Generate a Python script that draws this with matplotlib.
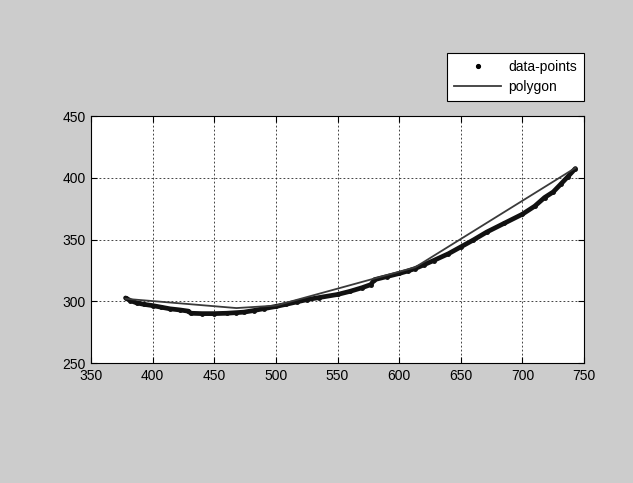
import matplotlib
matplotlib.use("Agg")
import matplotlib.pyplot as plt
from matplotlib.lines import Line2D

data_x = [378, 382, 387, 393, 400, 407, 414, 422, 429, 431, 440, 450, 460, 468,
          474, 482, 490, 500, 508, 517, 525, 535, 550, 560, 570, 577, 580, 590,
          600, 607, 613, 620, 628, 640, 650, 660, 671, 685, 700, 710, 718, 725,
          731, 737, 743]
data_y = [302.7, 300.5, 298.7, 297.5, 296.5, 295.2, 293.9, 293.0, 292.0, 290.3,
          290.0, 290.0, 290.3, 290.8, 291.2, 292.5, 294.0, 295.8, 297.5, 299.5,
          301.3, 303.0, 305.5, 308.0, 311.0, 313.5, 317.5, 320.0, 322.5, 324.5,
          326.5, 329.5, 333.0, 338.5, 344.0, 349.5, 356.0, 363.0, 370.5, 377.0,
          384.0, 388.5, 394.7, 401.0, 407.5]

# polygon vertices
poly_x = [378, 468, 500, 613, 743]
poly_y = [302.0, 294.5, 296.5, 327.5, 408.0]

xticks = [350, 400, 450, 500, 550, 600, 650, 700, 750]
yticks = [250, 300, 350, 400, 450]

plt.rcParams['font.family'] = ['Liberation Sans', 'DejaVu Sans']
plt.rcParams['font.size'] = 10

fig = plt.figure(figsize=(6.33, 4.83), dpi=100, facecolor='#cccccc')
ax = fig.add_axes([0.1438, 0.2484, 0.7788, 0.5114])
ax.set_facecolor('white')

ax.plot(data_x, data_y, '-', color='#111111', lw=3.4, solid_capstyle='round',
        zorder=3)
ax.plot(data_x, data_y, '.', color='#111111', ms=5, zorder=3)
ax.plot(poly_x, poly_y, '-', color='#3a3a3a', lw=1.3, zorder=4)

ax.set_xlim(350, 750)
ax.set_ylim(250, 450)
ax.set_xticks(xticks)
ax.set_yticks(yticks)
ax.grid(True, color='#222222', linestyle=(0, (2.2, 2.6)), linewidth=0.6)
ax.tick_params(direction='in', top=True, right=True, length=4, width=0.8,
               labelsize=10, colors='black', pad=4)
for sp in ax.spines.values():
    sp.set_linewidth(0.8)
    sp.set_color('black')

handles = [Line2D([], [], color='black', marker='.', ls='none', ms=5.5),
           Line2D([], [], color='#3a3a3a', lw=1.3)]
leg = fig.legend(handles, ['data-points', 'polygon'], loc='upper right',
                 bbox_to_anchor=(0.9226, 0.890), bbox_transform=fig.transFigure,
                 fancybox=False, edgecolor='black', framealpha=1,
                 handlelength=3.4, handletextpad=0.5, borderpad=0.5,
                 labelspacing=0.45, borderaxespad=0, fontsize=10)
leg.get_frame().set_linewidth(0.8)

fig.savefig('out.png', dpi=100, facecolor=fig.get_facecolor())
